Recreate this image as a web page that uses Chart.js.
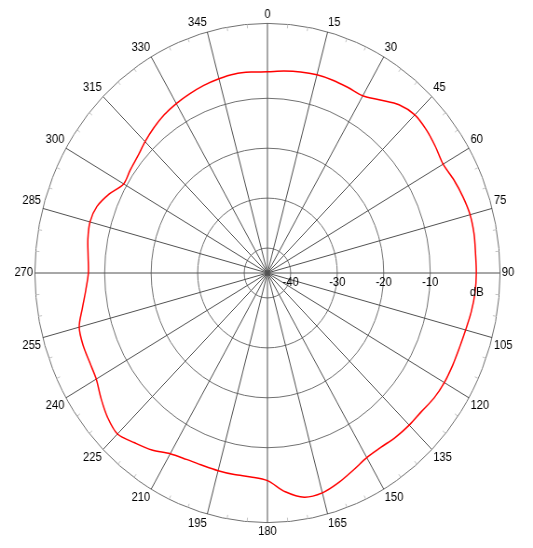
<!DOCTYPE html>
<html>
<head>
<meta charset="utf-8">
<script src="https://cdn.jsdelivr.net/npm/chart.js@4.4.1/dist/chart.umd.min.js"></script>
<style>
  html, body { margin: 0; padding: 0; background: #fff; }
</style>
</head>
<body>
<!-- canvas is drawn wider than shown, the CSS squeezes it like the source picture -->
<canvas id="patternChart" width="572" height="548" style="width:533px;height:548px"></canvas>
<script>
/* ================= DATA ================= */
// azimuth, degrees clockwise from the top
const angles = [
  0, 5, 10, 15, 20, 25, 30, 35, 40, 45, 50, 55,
  60, 65, 70, 75, 80, 85, 90, 95, 100, 105, 110, 115,
  120, 125, 130, 135, 140, 145, 150, 155, 160, 165, 170, 175,
  180, 185, 190, 195, 200, 205, 210, 215, 220, 225, 230, 235,
  240, 245, 250, 255, 260, 265, 270, 275, 280, 285, 290, 295,
  300, 305, 310, 315, 320, 325, 330, 335, 340, 345, 350, 355
];
// measured level, dB
const gainDb = [
  -4.7, -4.4, -4.1, -3.9, -3.9, -4.0, -4.0, -2.7, -1.0, -0.2, -0.4, -0.9,
  -1.4, -0.8, -0.3, 0.1, 0.1, -0.1, -0.1, -0.2, -0.5, -0.9, -1.1, -1.1,
  -1.1, -1.3, -1.8, -1.9, -2.1, -2.4, -2.3, -1.4, -0.3, 0.6, 0.6, -1.0,
  -3.4, -4.0, -4.0, -4.0, -4.0, -3.8, -3.2, -1.7, -0.6, 0.6, -0.1, -1.3,
  -2.5, -2.8, -2.8, -3.1, -4.6, -5.8, -6.5, -6.3, -5.8, -5.5, -6.0, -7.5,
  -9.3, -9.0, -8.6, -7.8, -7.0, -6.3, -5.8, -5.4, -5.0, -4.7, -4.5, -4.6
];
// circles that are drawn, and the labels along the 90 degree spoke
const ringValues = [-40, -30, -20, -10, 5];
const tickValues = [-40, -30, -20, -10, 0];
const tickLabels = ['-40', '-30', '-20', '-10', 'dB'];

const FONT = '"Liberation Sans", Arial, sans-serif';
const isMajor = i => angles[i] % 15 === 0;

/* ================= EXTRA DRAWING ================= */
const rimPlugin = {
  id: 'rim',
  beforeDatasetsDraw(chart) {
    const r = chart.scales.r;
    const ctx = chart.ctx;
    ctx.save();
    ctx.strokeStyle = '#c4c4c4';
    ctx.lineWidth = 1;
    angles.forEach((a, i) => {
      if (isMajor(i)) return;
      const p1 = r.getPointPosition(i, r.drawingArea - 4);
      const p2 = r.getPointPosition(i, r.drawingArea);
      ctx.beginPath();
      ctx.moveTo(p1.x, p1.y);
      ctx.lineTo(p2.x, p2.y);
      ctx.stroke();
    });
    ctx.restore();
  },
  afterDraw(chart) {
    const r = chart.scales.r;
    const ctx = chart.ctx;
    ctx.save();
    ctx.font = '12px ' + FONT;
    ctx.fillStyle = '#000';
    ctx.textAlign = 'center';
    ctx.textBaseline = 'middle';
    tickValues.forEach((v, i) => {
      const x = r.xCenter + r.getDistanceFromCenterForValue(v);
      const dy = tickLabels[i] === 'dB' ? 20 : 10;
      ctx.fillText(tickLabels[i], x, r.yCenter + dy);
    });
    ctx.restore();
  }
};

/* ================= PATTERN (RADAR) ================= */
const patternChart = new Chart(
  document.getElementById('patternChart'),
  {
    type: 'radar',
    data: {
      labels: angles,
      datasets: [{
        data: gainDb,
        borderColor: '#ff0000',
        borderWidth: 1.5,
        pointRadius: 0,
        fill: false,
        tension: 0.3
      }]
    },
    options: {
      responsive: false,
      devicePixelRatio: 1,
      animation: false,
      events: [],
      layout: {
        padding: { top: 7, bottom: 9 }
      },
      plugins: {
        legend: { display: false },
        tooltip: { enabled: false }
      },
      scales: {
        r: {
          min: -45,
          max: 5,
          ticks: { display: false, stepSize: 5 },
          grid: {
            circular: true,
            lineWidth: 1,
            color: ctx => ringValues.includes(ctx.tick.value) ? '#707070' : 'transparent'
          },
          angleLines: {
            color: '#505050',
            lineWidth: ctx => isMajor(ctx.index) ? 1 : 0
          },
          pointLabels: {
            padding: 2,
            color: '#000',
            font: { size: 12, family: FONT },
            callback: (label, i) => isMajor(i) ? String(label) : ''
          }
        }
      }
    },
    plugins: [rimPlugin]
  }
);
</script>
</body>
</html>
